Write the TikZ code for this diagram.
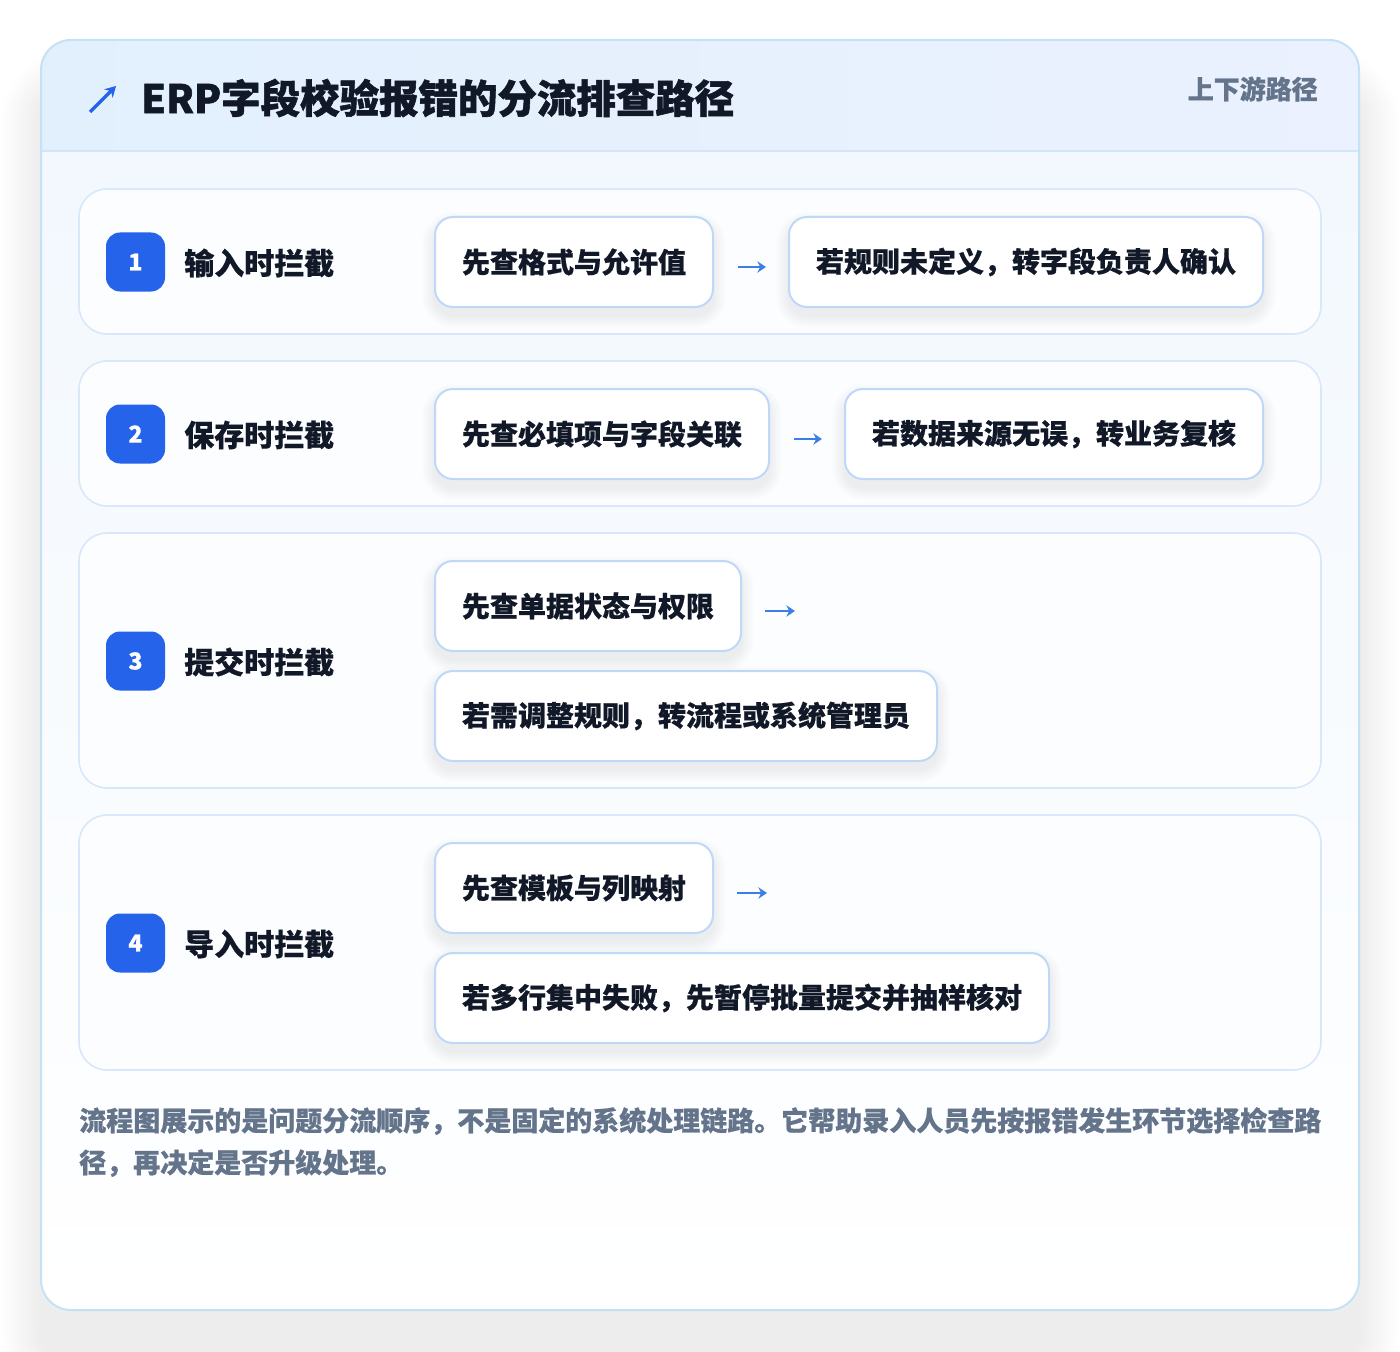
\documentclass[tikz,border=0pt]{standalone}
\usepackage{fontspec}
\setmainfont{Noto Sans CJK SC}[BoldFeatures={FakeBold=0.5}]
\newfontfamily\heavyfont{Noto Sans CJK SC}[BoldFeatures={FakeBold=1.4}]
\usetikzlibrary{arrows.meta}
\newdimen\PX \PX=0.75pt
\definecolor{ink}{HTML}{111827}
\definecolor{muted}{HTML}{64748B}
\definecolor{badgeblue}{HTML}{2563EB}
\definecolor{arrowblue}{HTML}{3B7FE6}
\definecolor{boxline}{HTML}{BFD8F8}
\definecolor{rowline}{HTML}{D8E8FA}
\definecolor{cardline}{HTML}{C3E2F6}
\definecolor{headL}{HTML}{E2F0FD}
\definecolor{headR}{HTML}{EBF1FE}
\definecolor{headline}{HTML}{D4E5F8}
\definecolor{bodytop}{HTML}{F2F8FE}
\definecolor{rowfill}{HTML}{FCFDFF}
% soft shadow: cx cy w h radius(px) yoffset steps stepsize opacity
\newcommand\softshadow[9]{%
  \foreach \k in {1,...,#7}{%
    \fill[black, opacity=#9, rounded corners={(#5+\k*#8)*0.75pt}]
      ({#1-#3/2-\k*#8},{#2-#4/2-\k*#8+#6}) rectangle ({#1+#3/2+\k*#8},{#2+#4/2+\k*#8+#6});
  }}
\begin{document}
\begin{tikzpicture}[x=0.75pt,y=-0.75pt,
  stepbox/.style={draw=boxline, line width=1.5pt, fill=white, rounded corners=13.5pt,
    text=ink, font=\bfseries\fontsize{21}{25}\selectfont, inner sep=0pt,
    minimum height=90\PX},
  rowcard/.style={draw=rowline, line width=1.2pt, fill=rowfill, rounded corners=21pt},
  badge/.style={fill=badgeblue, rounded corners=10.5pt, minimum size=59\PX, inner sep=0pt,
    text=white, font=\bfseries\fontsize{17.5}{18}\selectfont},
  rowlabel/.style={anchor=west, inner sep=0pt, text=ink, font=\bfseries\fontsize{22.5}{26}\selectfont},
  flow/.style={draw=arrowblue, line width=1.9pt, -{Stealth[length=6.5pt,width=8.5pt]}}
]
\useasboundingbox (0,0) rectangle (1400,1352);
\fill[white] (0,0) rectangle (1400,1352);

% outer card shadow
\softshadow{700}{700}{1318}{1270}{30}{26}{18}{2.2}{0.0038}
\fill[white, rounded corners=22.5pt] (41,40) rectangle (1359,1310);
\begin{scope}
  \clip[rounded corners=22.5pt] (41,40) rectangle (1359,1310);
  \shade[top color=bodytop, bottom color=white] (41,151) rectangle (1359,1310);
  \shade[left color=headL, right color=headR] (41,40) rectangle (1359,151);
  \draw[headline, line width=1.5pt] (41,151) -- (1359,151);
\end{scope}
\draw[cardline, line width=1.5pt, rounded corners=22.5pt] (41,40) rectangle (1359,1310);

% header
\coordinate (icS) at (90,112);
\coordinate (icE) at (116,86);
\draw[badgeblue, line width=2.4pt, -{Stealth[length=8pt,width=9pt]}] (icS) -- (icE);
\node[anchor=west, inner sep=0pt, text=ink, font=\heavyfont\bfseries\fontsize{29.6}{33}\selectfont] (title) at (141,98) {ERP字段校验报错的分流排查路径};
\node[anchor=east, inner sep=0pt, text=muted, font=\bfseries\fontsize{19.5}{22}\selectfont] (tag) at (1318,89) {上下游路径};

% row cards
\node[rowcard, minimum width=1242\PX, minimum height=145\PX] (row1) at (700,261.5) {};
\node[rowcard, minimum width=1242\PX, minimum height=145\PX] (row2) at (700,433.5) {};
\node[rowcard, minimum width=1242\PX, minimum height=255\PX] (row3) at (700,660.5) {};
\node[rowcard, minimum width=1242\PX, minimum height=255\PX] (row4) at (700,942.5) {};

% badges and labels
\node[badge] (b1) at (135.5,262) {1};
\node[rowlabel] (l1) at (184,263) {输入时拦截};
\node[badge] (b2) at (135.5,434) {2};
\node[rowlabel] (l2) at (184,435) {保存时拦截};
\node[badge] (b3) at (135.5,661) {3};
\node[rowlabel] (l3) at (184,662) {提交时拦截};
\node[badge] (b4) at (135.5,943) {4};
\node[rowlabel] (l4) at (184,944) {导入时拦截};

% box shadows
\softshadow{574}{262}{278}{90}{18}{8}{8}{1.6}{0.007}
\softshadow{1026}{262}{474}{90}{18}{8}{8}{1.6}{0.007}
\softshadow{602}{434}{334}{90}{18}{8}{8}{1.6}{0.007}
\softshadow{1054}{434}{418}{90}{18}{8}{8}{1.6}{0.007}
\softshadow{588}{606}{306}{90}{18}{8}{8}{1.6}{0.007}
\softshadow{686}{716}{502}{90}{18}{8}{8}{1.6}{0.007}
\softshadow{574}{888}{278}{90}{18}{8}{8}{1.6}{0.007}
\softshadow{742}{998}{614}{90}{18}{8}{8}{1.6}{0.007}

% row 1
\node[stepbox, minimum width=278\PX] (r1a) at (574,262) {先查格式与允许值};
\node[stepbox, minimum width=474\PX] (r1b) at (1026,262) {若规则未定义，转字段负责人确认};
\draw[flow, shorten <=24\PX, shorten >=22\PX] ([yshift=-3.75pt]r1a.east) -- ([yshift=-3.75pt]r1b.west);

% row 2
\node[stepbox, minimum width=334\PX] (r2a) at (602,434) {先查必填项与字段关联};
\node[stepbox, minimum width=418\PX] (r2b) at (1054,434) {若数据来源无误，转业务复核};
\draw[flow, shorten <=24\PX, shorten >=22\PX] ([yshift=-3.75pt]r2a.east) -- ([yshift=-3.75pt]r2b.west);

% row 3
\node[stepbox, minimum width=306\PX] (r3a) at (588,606) {先查单据状态与权限};
\node[stepbox, minimum width=502\PX] (r3b) at (686,716) {若需调整规则，转流程或系统管理员};
\coordinate (r3s) at (765,611);
\coordinate (r3e) at (795,611);
\draw[flow] (r3s) -- (r3e);

% row 4
\node[stepbox, minimum width=278\PX] (r4a) at (574,888) {先查模板与列映射};
\node[stepbox, minimum width=614\PX] (r4b) at (742,998) {若多行集中失败，先暂停批量提交并抽样核对};
\coordinate (r4s) at (737,893);
\coordinate (r4e) at (767,893);
\draw[flow] (r4s) -- (r4e);

% footnote
\node[anchor=north west, inner sep=0pt, align=left, text=muted,
  font=\bfseries\fontsize{20.25}{31.5}\selectfont] (note) at (79,1107)
  {流程图展示的是问题分流顺序，不是固定的系统处理链路。它帮助录入人员先按报错发生环节选择检查路\\径，再决定是否升级处理。};
\end{tikzpicture}
\end{document}
